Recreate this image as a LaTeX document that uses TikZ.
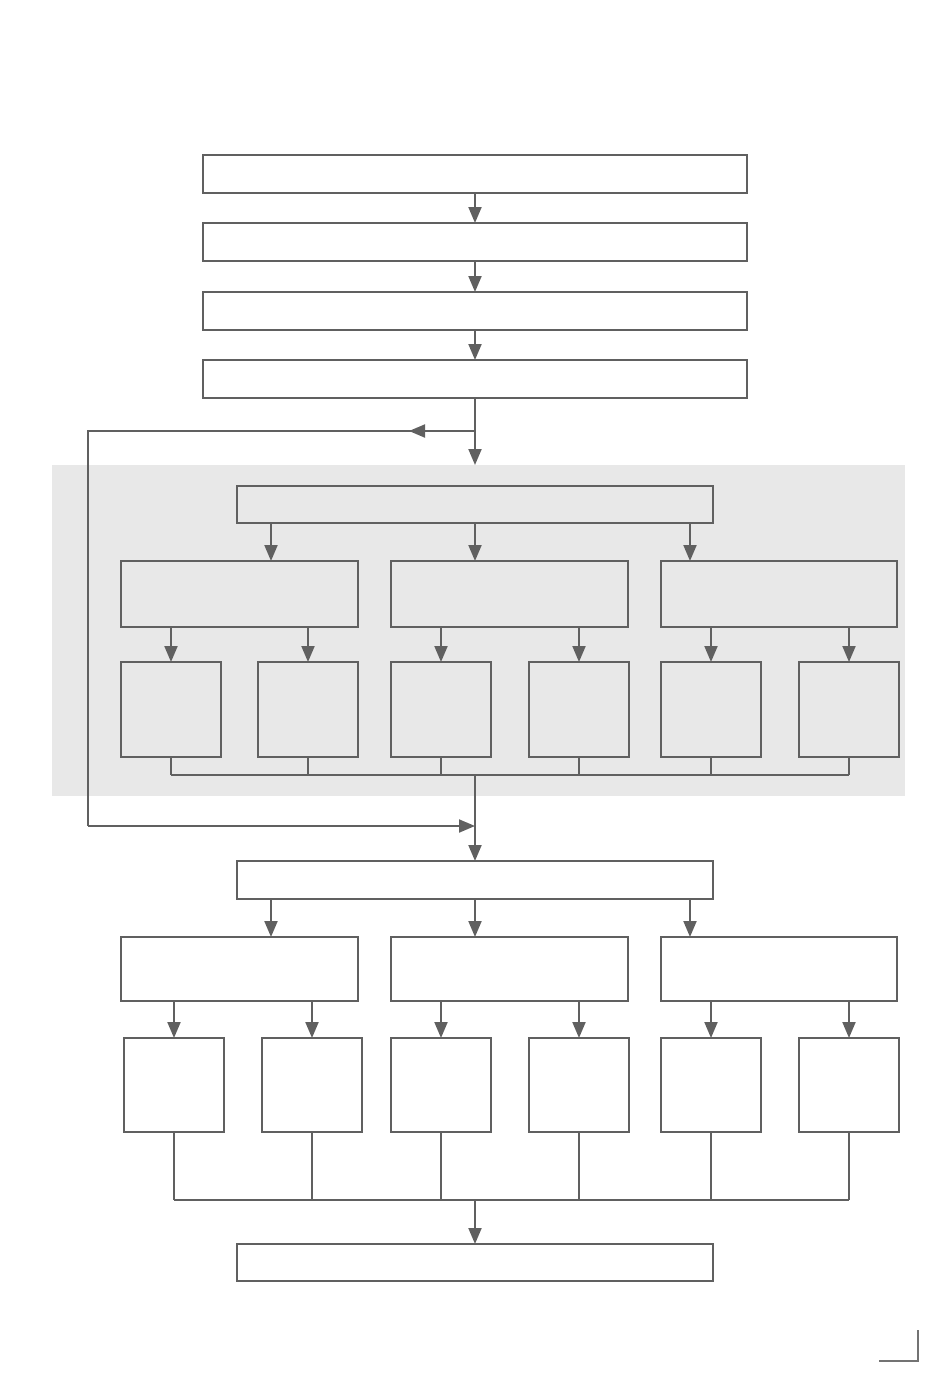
\documentclass[tikz,border=0pt]{standalone}
\usetikzlibrary{arrows.meta}
\definecolor{linegray}{HTML}{606060}
\definecolor{bggray}{HTML}{E8E8E8}
\begin{document}
\begin{tikzpicture}[x=1pt,y=-1pt,line width=2pt,draw=linegray,
	>={Triangle[length=16pt,width=13pt]},
	box/.style={draw=linegray,line width=2pt,inner sep=0pt,outer sep=0pt,rectangle}]
	\useasboundingbox (0,0) rectangle (950,1374);
	\fill [bggray] (52,465) rectangle (905,796);

	% top chain
	\node [box,minimum width=544pt,minimum height=38pt] (t1) at (475,174) {};
	\node [box,minimum width=544pt,minimum height=38pt] (t2) at (475,242) {};
	\node [box,minimum width=544pt,minimum height=38pt] (t3) at (475,311) {};
	\node [box,minimum width=544pt,minimum height=38pt] (t4) at (475,379) {};
	\draw [->] (t1.south) -- (t2.north);
	\draw [->] (t2.south) -- (t3.north);
	\draw [->] (t3.south) -- (t4.north);

	\coordinate (split) at (475,431);
	\coordinate (gtop) at (475,465);
	\coordinate (loopmid) at (409,431);
	\coordinate (loopL) at (88,431);
	\coordinate (loopB) at (88,826);
	\coordinate (join) at (475,826);
	\draw [->] (t4.south) -- (gtop);
	\draw (split) -- (loopL) -- (loopB);
	\draw [->] (split) -- (loopmid);

	% first stage
	\node [box,minimum width=476pt,minimum height=37pt] (a) at (475,504.5) {};
	\node [box,minimum width=237pt,minimum height=66pt] (m1) at (239.5,594) {};
	\node [box,minimum width=237pt,minimum height=66pt] (m2) at (509.5,594) {};
	\node [box,minimum width=236pt,minimum height=66pt] (m3) at (779,594) {};
	\draw [->] ([xshift=-204pt]a.south) -- ([xshift=-204pt]a.south |- m1.north);
	\draw [->] (a.south) -- (a.south |- m2.north);
	\draw [->] ([xshift=215pt]a.south) -- ([xshift=215pt]a.south |- m3.north);
	\foreach \n/\x/\m in {1/171/m1, 2/308/m1, 3/441/m2, 4/579/m2, 5/711/m3, 6/849/m3} {
		\node [box,minimum width=100pt,minimum height=95pt] (s\n) at (\x,709.5) {};
		\draw [->] (s\n.north |- \m.south) -- (s\n.north);
		\draw (s\n.south) -- ++(0,18);
	}
	\draw ([yshift=-18pt]s1.south) -- ([yshift=-18pt]s6.south);
	\coordinate (bus1) at ([yshift=-18pt]s1.south);

	% second stage
	\node [box,minimum width=476pt,minimum height=38pt] (b) at (475,880) {};
	\draw (bus1 -| b.north) -- (join);
	\draw [->] (loopB) -- (join);
	\draw [->] (join) -- (b.north);
	\node [box,minimum width=237pt,minimum height=64pt] (n1) at (239.5,969) {};
	\node [box,minimum width=237pt,minimum height=64pt] (n2) at (509.5,969) {};
	\node [box,minimum width=236pt,minimum height=64pt] (n3) at (779,969) {};
	\draw [->] ([xshift=-204pt]b.south) -- ([xshift=-204pt]b.south |- n1.north);
	\draw [->] (b.south) -- (b.south |- n2.north);
	\draw [->] ([xshift=215pt]b.south) -- ([xshift=215pt]b.south |- n3.north);
	\foreach \n/\x/\m in {1/174/n1, 2/312/n1, 3/441/n2, 4/579/n2, 5/711/n3, 6/849/n3} {
		\node [box,minimum width=100pt,minimum height=94pt] (r\n) at (\x,1085) {};
		\draw [->] (r\n.north |- \m.south) -- (r\n.north);
		\draw (r\n.south) -- ++(0,68);
	}
	\draw ([yshift=-68pt]r1.south) -- ([yshift=-68pt]r6.south);
	\coordinate (bus2) at ([yshift=-68pt]r1.south);

	\node [box,minimum width=476pt,minimum height=37pt] (f) at (475,1262.5) {};
	\draw [->] (bus2 -| f.north) -- (f.north);

	% corner mark
	\draw [draw=gray!110] (879,1361) -- (918,1361) -- (918,1330);
\end{tikzpicture}
\end{document}
